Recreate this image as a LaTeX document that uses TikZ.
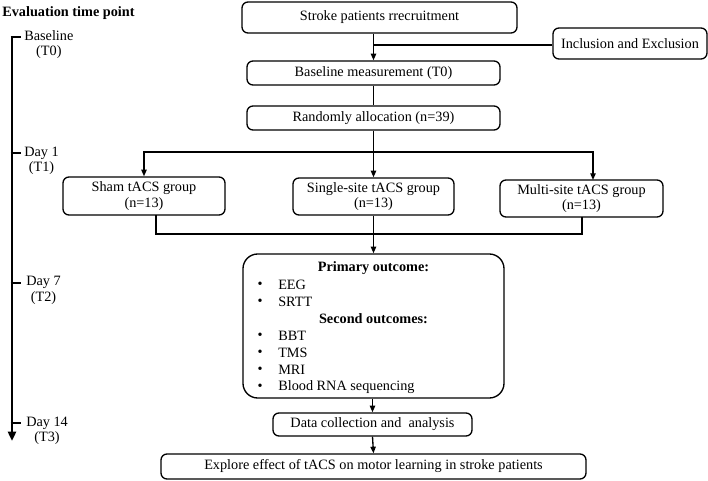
\documentclass[tikz,border=0pt]{standalone}
\usepackage{fontspec}
\setmainfont{Liberation Serif}
\usetikzlibrary{arrows.meta}
\newdimen\pxu \pxu=0.75pt
\begin{document}
\begin{tikzpicture}[x=0.75pt,y=-0.75pt,
  font=\fontsize{10.7}{11.5}\selectfont,
  box/.style={draw,line width=1pt,rounded corners=4.5pt,align=center,inner sep=0pt},
  conn/.style={line width=1pt},
  arr/.style={line width=1pt,-{Triangle[length=5pt,width=4pt]}},
  tl/.style={line width=2.2pt},
  lab/.style={align=center,inner sep=0pt,anchor=west},
  item/.style={inner sep=0pt,anchor=west},
  bul/.style={inner sep=0pt}]
\useasboundingbox (0,0) rectangle (708,481);
% heading and timeline
\node[inner sep=0pt,anchor=west,font=\fontsize{10.7}{11.5}\selectfont\bfseries] (head) at (2,13) {Evaluation time point};
\coordinate (t0) at (12,37);
\coordinate (t1) at (12,153);
\coordinate (t2) at (12,283);
\coordinate (t3) at (12,423);
\coordinate (tend) at (12,441);
\draw[tl,-{Triangle[length=7pt,width=6pt]}] (t0) -- (tend);
\foreach \t in {t0,t1,t2,t3}{\draw[tl] ([xshift=-1pt]\t) -- ++(10,0);}
\node[lab] (l0) at (24,44.5) {Baseline\\(T0)};
\node[lab] (l1) at (24,160.5) {Day 1\\(T1)};
\node[lab] (l2) at (26,290.5) {Day 7\\(T2)};
\node[lab] (l3) at (26,430.5) {Day 14\\(T3)};
% boxes
\node[box,minimum width=275\pxu,minimum height=31\pxu] (stroke) at (379.5,17.5) {Stroke patients rrecruitment};
\node[box,minimum width=154\pxu,minimum height=31\pxu] (incl) at (630,43.5) {Inclusion and Exclusion};
\node[box,minimum width=253\pxu,minimum height=24\pxu] (base) at (373.5,73) {Baseline measurement (T0)};
\node[box,minimum width=253\pxu,minimum height=24\pxu] (rand) at (373.5,118) {Randomly allocation (n=39)};
\node[box,minimum width=162\pxu,minimum height=38\pxu] (sham) at (144,196) {Sham tACS group\\(n=13)};
\node[box,minimum width=161\pxu,minimum height=37\pxu] (single) at (373.5,196.5) {Single-site tACS group\\(n=13)};
\node[box,minimum width=163\pxu,minimum height=37\pxu] (multi) at (581.5,198.5) {Multi-site tACS group\\(n=13)};
\node[box,rounded corners=11pt,minimum width=261\pxu,minimum height=144\pxu] (outc) at (373.5,326) {};
\node[box,minimum width=199\pxu,minimum height=23\pxu] (data) at (372.5,424.5) {Data collection and\ \ analysis};
\node[box,minimum width=425\pxu,minimum height=25\pxu] (expl) at (373.5,466.5) {Explore effect of tACS on motor learning in stroke patients};
% outcome contents
\node[inner sep=0pt,font=\fontsize{10.7}{11.5}\selectfont\bfseries] (prim) at (373.5,268) {Primary outcome:};
\node[inner sep=0pt,font=\fontsize{10.7}{11.5}\selectfont\bfseries] (sec) at (373.5,319) {Second outcomes:};
\foreach \y/\n/\txt in {285/eeg/EEG,302/srtt/SRTT,336/bbt/BBT,353/tms/TMS,370/mri/MRI,387/rna/Blood RNA sequencing}{
  \node[bul] (b\n) at (260,\y) {•};
  \node[item] (\n) at (278,\y) {\txt};
}
% connectors
\coordinate (jin) at (base.north |- 0,45);
\draw[arr] (stroke.south -| base.north) -- (base.north);
\draw[conn] (incl.west |- jin) -- (jin);
\draw[conn] (base.south) -- (rand.north);
\coordinate (split) at (373.5,152);
\coordinate (mtop) at (593,180);
\draw[arr] (rand.south) -- (single.north);
\draw[arr] (split) -| (sham.north);
\draw[arr] (split) -| (mtop);
\coordinate (sbot) at (156,215);
\coordinate (mbot) at (582,217);
\coordinate (join) at (373.5,234);
\draw[conn] (sbot) |- (join);
\draw[conn] (mbot) |- (join);
\draw[arr] (single.south) -- (outc.north);
\draw[arr] (outc.south -| data.north) -- (data.north);
\draw[arr] (data.south) -- (expl.north);
\end{tikzpicture}
\end{document}
